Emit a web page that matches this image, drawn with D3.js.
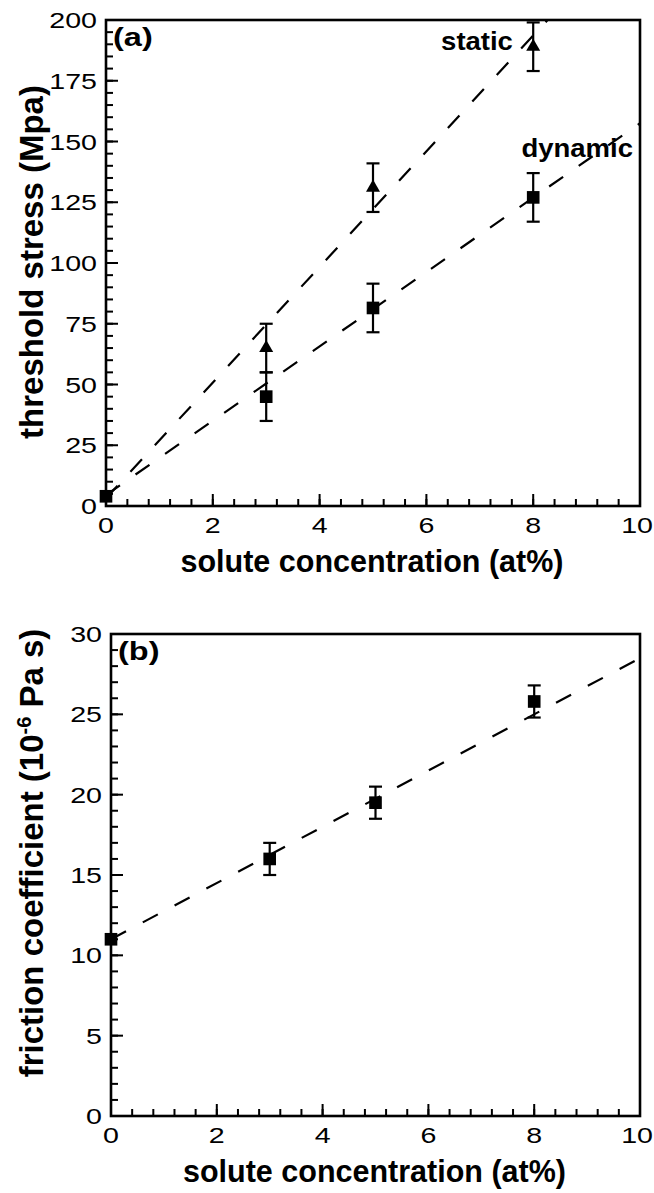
<!DOCTYPE html>
<html>
<head>
<meta charset="utf-8">
<script src="https://cdn.jsdelivr.net/npm/d3@7"></script>
<style>
  html, body { margin: 0; padding: 0; background: #fff; }
  text { font-family: "Liberation Sans", Arial, sans-serif; fill: #000; }
</style>
</head>
<body>
<script>
// tick labels
var concTicks = [0, 2, 4, 6, 8, 10];
var stressTicks = [0, 25, 50, 75, 100, 125, 150, 175, 200];
var frictionTicks = [0, 5, 10, 15, 20, 25, 30];

// panel (a): threshold stress
var staticConc = [3, 5, 8];
var staticStress = [65, 131, 189];
var staticErr = [10, 10, 10];
var dynamicConc = [0, 3, 5, 8];
var dynamicStress = [4, 45, 81.5, 127];
var dynamicErr = [0, 10, 10, 10];
var staticFit = [3.2, 23.8];    // intercept, slope
var dynamicFit = [4.5, 15.3];

// panel (b): friction coefficient
var frictionConc = [0, 3, 5, 8];
var friction = [11, 16, 19.5, 25.8];
var frictionErr = [0, 1, 1, 1];
var frictionFit = [11, 1.75];

var width = 654, height = 1193;

var svg = d3.select("body").append("svg")
	.attr("width", width)
	.attr("height", height);

// text with a slight horizontal stretch, like the original bitmap
function stretchText(g, x, y, str, size, sx, bold, anchor) {
	return g.append("text")
		.attr("transform", "translate(" + x + "," + y + ") scale(" + sx + ",1)")
		.attr("text-anchor", anchor || "start")
		.style("font-size", size + "px")
		.style("font-weight", bold ? "bold" : "normal")
		.text(str);
}

function drawPanel(p) {
	var x = d3.scaleLinear().domain([0, 10]).range([p.left, p.right]);
	var y = d3.scaleLinear().domain(p.yDomain).range([p.bottom, p.top]);
	var g = svg.append("g");

	g.append("clipPath").attr("id", "clip" + p.id)
		.append("rect")
			.attr("x", p.left).attr("y", p.top)
			.attr("width", p.right - p.left).attr("height", p.bottom - p.top);

	// minor + major ticks, pointing inward
	var xMinor = d3.range(0, 10.001, 0.4);
	g.selectAll(".xminor").data(xMinor).enter().append("line")
		.attr("x1", x).attr("x2", x)
		.attr("y1", p.bottom).attr("y2", p.bottom - 7)
		.attr("stroke", "#000").attr("stroke-width", 2);
	g.selectAll(".xmajor").data(concTicks).enter().append("line")
		.attr("x1", x).attr("x2", x)
		.attr("y1", p.bottom).attr("y2", p.bottom - 12)
		.attr("stroke", "#000").attr("stroke-width", 2);

	var yMinor = d3.range(p.yDomain[0], p.yDomain[1] + 0.001, p.yMinorStep);
	g.selectAll(".yminor").data(yMinor).enter().append("line")
		.attr("x1", p.left).attr("x2", p.left + 7)
		.attr("y1", y).attr("y2", y)
		.attr("stroke", "#000").attr("stroke-width", 2);
	g.selectAll(".ymajor").data(p.yTicks).enter().append("line")
		.attr("x1", p.left).attr("x2", p.left + 12)
		.attr("y1", y).attr("y2", y)
		.attr("stroke", "#000").attr("stroke-width", 2);

	// frame
	g.append("rect")
		.attr("x", p.left).attr("y", p.top)
		.attr("width", p.right - p.left).attr("height", p.bottom - p.top)
		.attr("fill", "none").attr("stroke", "#000").attr("stroke-width", 2.6);

	// tick labels (the last one is kept inside the page edge)
	concTicks.forEach(function(t, i) {
		var last = i === concTicks.length - 1;
		stretchText(g, last ? width - 1 : x(t), p.bottom + 27, t, 22, 1.3, false, last ? "end" : "middle");
	});
	p.yTicks.forEach(function(t) {
		stretchText(g, p.left - 9, y(t) + 8, t, 22, 1.3, false, "end");
	});

	// axis titles
	g.append("text")
		.attr("x", (p.left + p.right) / 2 - 1).attr("y", p.bottom + 66)
		.attr("text-anchor", "middle")
		.style("font-size", "30.5px").style("font-weight", "bold")
		.text("solute concentration (at%)");

	var yt = g.append("text")
		.attr("transform", "translate(43," + p.yTitleMid + ") rotate(-90)")
		.attr("text-anchor", "middle")
		.style("font-size", "33px").style("font-weight", "bold");
	p.yTitle(yt);

	stretchText(g, p.left + 7, p.top + 26, p.tag, 25, 1.3, true, "start");

	// dashed fit lines
	var fits = g.append("g").attr("clip-path", "url(#clip" + p.id + ")");
	p.fits.forEach(function(f) {
		fits.append("line")
			.attr("x1", x(0)).attr("y1", y(f[0]))
			.attr("x2", x(10)).attr("y2", y(f[0] + 10 * f[1]))
			.attr("stroke", "#000").attr("stroke-width", 2.2)
			.attr("stroke-dasharray", "17,19");
	});

	// error bars and markers
	p.series.forEach(function(s) {
		var pts = s.x.map(function(v, i) { return { x: v, y: s.y[i], e: s.e[i] }; });
		var eb = g.append("g").selectAll("g")
			.data(pts.filter(function(d) { return d.e > 0; }))
			.enter().append("g")
				.attr("stroke", "#000").attr("stroke-width", 2.2);
		eb.append("line")
			.attr("x1", function(d) { return x(d.x); }).attr("x2", function(d) { return x(d.x); })
			.attr("y1", function(d) { return y(d.y - d.e); }).attr("y2", function(d) { return y(d.y + d.e); });
		eb.append("line")
			.attr("x1", function(d) { return x(d.x) - 6.5; }).attr("x2", function(d) { return x(d.x) + 6.5; })
			.attr("y1", function(d) { return y(d.y - d.e); }).attr("y2", function(d) { return y(d.y - d.e); });
		eb.append("line")
			.attr("x1", function(d) { return x(d.x) - 6.5; }).attr("x2", function(d) { return x(d.x) + 6.5; })
			.attr("y1", function(d) { return y(d.y + d.e); }).attr("y2", function(d) { return y(d.y + d.e); });

		var sym = d3.symbol().type(s.shape).size(s.shape === d3.symbolSquare ? 160 : 85);
		g.append("g").selectAll("path")
			.data(pts)
			.enter().append("path")
				.attr("transform", function(d) { return "translate(" + x(d.x) + "," + y(d.y) + ")"; })
				.attr("d", sym)
				.attr("fill", "#000");
	});

	// curve labels
	(p.notes || []).forEach(function(n) {
		stretchText(g, x(n.x), y(n.y), n.text, 25, 1.1, true, n.anchor);
	});
}

drawPanel({
	id: "a", tag: "(a)",
	left: 106, right: 640, top: 20, bottom: 506,
	yDomain: [0, 200], yTicks: stressTicks, yMinorStep: 5,
	yTitleMid: 262,
	yTitle: function(t) { t.text("threshold stress (Mpa)"); },
	fits: [staticFit, dynamicFit],
	series: [
		{ x: staticConc, y: staticStress, e: staticErr, shape: d3.symbolTriangle },
		{ x: dynamicConc, y: dynamicStress, e: dynamicErr, shape: d3.symbolSquare }
	],
	notes: [
		{ text: "static", x: 7.62, y: 187.5, anchor: "end" },
		{ text: "dynamic", x: 7.78, y: 143.5, anchor: "start" }
	]
});

drawPanel({
	id: "b", tag: "(b)",
	left: 111, right: 640, top: 634, bottom: 1116,
	yDomain: [0, 30], yTicks: frictionTicks, yMinorStep: 1,
	yTitleMid: 853,
	yTitle: function(t) {
		t.append("tspan").text("friction coefficient (10");
		t.append("tspan").attr("dy", -12).style("font-size", "20px").text("-6");
		t.append("tspan").attr("dy", 12).text(" Pa s)");
	},
	fits: [frictionFit],
	series: [
		{ x: frictionConc, y: friction, e: frictionErr, shape: d3.symbolSquare }
	]
});
</script>
</body>
</html>
